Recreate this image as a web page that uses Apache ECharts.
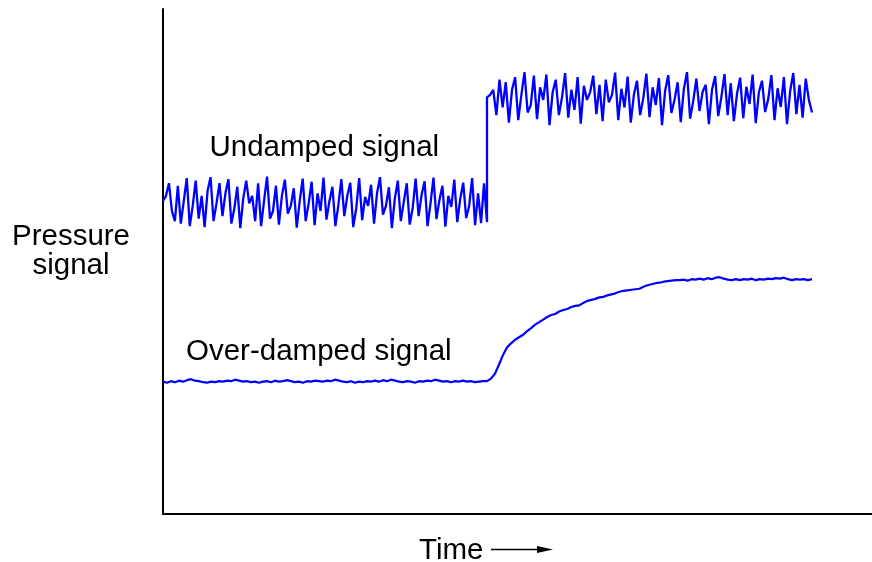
<!DOCTYPE html>
<html lang="en">
<head>
    <meta charset="utf-8">
    <title>Pressure signal</title>
    <script src="https://cdn.jsdelivr.net/npm/echarts@6/dist/echarts.min.js"></script>
    <style>
        html, body { margin: 0; padding: 0; background: #fff; }
        #main { width: 872px; height: 562px; }
    </style>
</head>
<body>
    <div id="main"></div>
    <script type="text/javascript">
    // time span (px-like units) of each half of the record
    var stepTime = 324;
    var endTime = 649;

    // undamped signal, before and after the step
    var undampedLow = [62, 63, 65.5, 60, 58, 65, 57.5, 62, 66.5, 57, 61, 66, 58.5, 63, 56.8, 64, 66.7, 58, 61.5, 65.5,
        59, 63.5, 66.3, 57.5, 60.5, 64.8, 56.6, 62.5, 66, 61.5, 63, 58, 65.5, 57, 62, 66.8, 58.5, 60, 65, 57.3,
        63, 66.2, 59.5, 61, 64.5, 56.7, 62, 66.4, 58, 61.5, 65.8, 57.2, 63.5, 60, 66.6, 58.3, 62, 64.8, 57, 61.2,
        66.3, 59, 63, 65.6, 56.8, 60.5, 66.5, 58.2, 62.8, 61, 65.2, 57.5, 63.5, 66.7, 59.3, 61, 64.7, 56.6, 62.5, 66,
        58, 61.8, 65.5, 57.3, 60.6, 66.4, 59, 63.2, 65.9, 57, 61.5, 66.6, 58.4, 62.2, 65, 56.9, 63, 60.8, 66.2, 57.8,
        62.4, 65.6, 58.6, 61, 66.5, 57.2, 63.5, 57.6, 65.5, 57.8];
    var undampedHigh = [82.5, 83, 84, 79, 86, 80.5, 85.5, 77.5, 84, 86.5, 78, 83, 87.5, 79.5, 81, 86.8, 78.2, 84.5, 82, 87,
        77, 83.5, 86, 79, 82.5, 87.3, 78.5, 84, 80, 86.5, 77.3, 84.8, 82, 83.5, 86.8, 79.2, 85, 77.8, 86, 81.5,
        83, 87.4, 78, 84.2, 80.5, 86.6, 77.5, 83, 85.8, 79, 82.3, 87.2, 78.6, 84.5, 81, 86.3, 77, 83.8, 86.9, 79.4,
        82, 85.5, 77.6, 84.2, 87.5, 78.3, 81.8, 86.2, 79.8, 83.6, 85, 77.2, 84, 86.7, 78.8, 82.6, 87.1, 79, 85.3, 77.8,
        83.2, 86.4, 78.4, 84.6, 81.2, 87, 77.4, 83.5, 85.8, 79.6, 82.2, 86.9, 78, 84.3, 80.6, 86.5, 77.2, 83.7, 87.3, 79.2,
        85, 78.5, 86.2, 82, 79.5];

    // over-damped signal: flat part, then the slow rise
    var overFlat = [26.2, 26.0, 26.3, 26.1, 26.4, 26.2, 26.5, 26.7, 26.4, 26.3, 26.1, 26.0, 26.2, 26.1, 26.3, 26.2, 26.4, 26.3, 26.6, 26.4,
        26.2, 26.3, 26.1, 26.2, 26.0, 26.2, 26.3, 26.1, 26.4, 26.2, 26.3, 26.5, 26.3, 26.1, 26.2, 26.0, 26.3, 26.2, 26.4, 26.3,
        26.2, 26.4, 26.3, 26.6, 26.4, 26.2, 26.1, 26.3, 26.0, 26.2, 26.1, 26.3, 26.2, 26.4, 26.2, 26.5, 26.3, 26.6, 26.4, 26.2,
        26.1, 26.3, 26.2, 26.0, 26.3, 26.2, 26.4, 26.3, 26.6, 26.4, 26.2, 26.3, 26.1, 26.3, 26.2, 26.4, 26.2, 26.3, 26.1, 26.2,
        26.3, 26.3];
    var overRise = [26.8, 27.8, 29.6, 31.5, 33.0, 33.8, 34.5, 35.0, 35.5, 36.2, 36.8, 37.5, 38.0, 38.5, 39.0, 39.4, 39.6, 40.1, 40.4, 40.6,
        41.0, 41.2, 41.3, 41.8, 42.2, 42.4, 42.6, 42.9, 43.0, 43.3, 43.5, 43.7, 44.0, 44.2, 44.3, 44.4, 44.5, 44.6, 45.0, 45.3,
        45.5, 45.7, 45.8, 46.0, 46.1, 46.2, 46.3, 46.3, 46.4, 46.2, 46.5, 46.4, 46.6, 46.4, 46.7, 46.5, 46.8, 46.9, 46.6, 46.4,
        46.3, 46.5, 46.3, 46.5, 46.4, 46.6, 46.3, 46.5, 46.4, 46.6, 46.5, 46.7, 46.6, 46.8, 46.5, 46.3, 46.5, 46.4, 46.5, 46.3,
        46.5];

    // spread a list of values evenly between two times
    function spread(values, t0, t1) {
        var dt = (t1 - t0) / (values.length - 1);
        return values.map(function (v, i) { return [t0 + i * dt, v]; });
    }

    var undamped = spread(undampedLow, 0, stepTime).concat(spread(undampedHigh, stepTime, endTime));
    var overDamped = spread(overFlat, 0, stepTime).concat(spread(overRise, stepTime + 4, endTime));

    var font = '29.5px "Liberation Sans", Arial, sans-serif';
    var myChart = echarts.init(document.getElementById('main'));

    function label(text, x, y, align) {
        return { type: 'text', x: x, y: y,
            style: { text: text, font: font, fill: '#000', align: align || 'left', verticalAlign: 'middle' } };
    }

    myChart.setOption({
        animation: false,
        backgroundColor: '#fff',
        grid: { left: 163, right: 0, top: 9, bottom: 48 },
        xAxis: {
            type: 'value', min: 0, max: 709,
            axisLine: { show: true, lineStyle: { color: '#000', width: 2 } },
            axisTick: { show: false }, axisLabel: { show: false }, splitLine: { show: false }
        },
        yAxis: {
            type: 'value', min: 0, max: 100,
            axisLine: { show: true, lineStyle: { color: '#000', width: 2 } },
            axisTick: { show: false }, axisLabel: { show: false }, splitLine: { show: false }
        },
        series: [{
            name: 'Undamped signal',
            type: 'line',
            data: undamped,
            showSymbol: false,
            lineStyle: { color: '#0000ff', width: 2.3 }
        }, {
            name: 'Over-damped signal',
            type: 'line',
            data: overDamped,
            showSymbol: false,
            lineStyle: { color: '#0000ff', width: 2.2 }
        }],
        graphic: [
            label('Undamped signal', 209.5, 148),
            label('Over-damped signal', 186, 352),
            label('Pressure', 71, 237, 'center'),
            label('signal', 71, 266, 'center'),
            label('Time', 419, 551),
            { type: 'line', shape: { x1: 491, y1: 549.5, x2: 540, y2: 549.5 }, style: { stroke: '#000', lineWidth: 1.5 } },
            { type: 'polygon', shape: { points: [[537, 546], [553, 549.5], [537, 553]] }, style: { fill: '#000' } }
        ]
    });
    </script>
</body>
</html>
